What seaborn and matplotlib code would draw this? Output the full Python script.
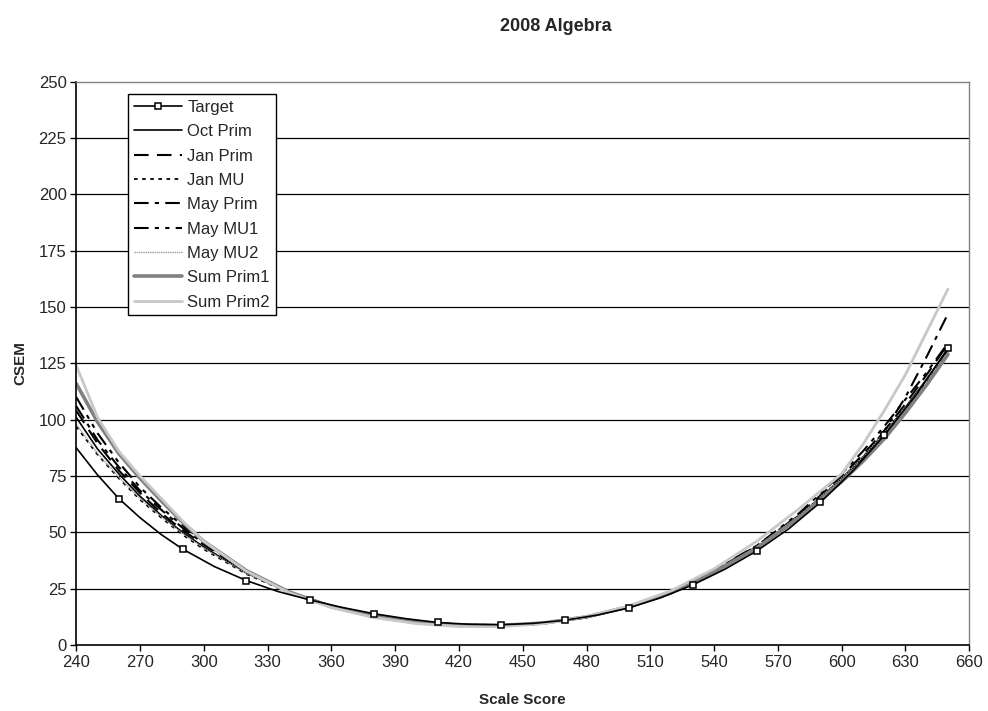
import numpy as np
import pandas as pd
import matplotlib
matplotlib.use("Agg")
import matplotlib.pyplot as plt
from matplotlib.lines import Line2D
import seaborn as sns

# ---------------- data ----------------
# Target curve (smooth line) and the scores carrying square markers
target_x = [240, 250, 260, 270, 280, 290, 305, 320, 335, 350, 365, 380, 395, 410, 425,
            440, 455, 470, 485, 500, 515, 530, 545, 560, 575, 590, 605, 620, 635, 650]
target_y = [87.5, 75.5, 65, 56.5, 49, 42.6, 34.8, 28.6, 23.7, 20, 16.7, 13.9, 11.7, 10, 9.2,
            9, 9.6, 11, 13.3, 16.5, 21, 26.7, 33.6, 41.7, 51.5, 63.3, 77, 93, 111, 131.7]
target_marker_x = [260, 290, 320, 350, 380, 410, 440, 470, 500, 530, 560, 590, 620, 650]

score = [240, 250, 260, 270, 280, 290, 300, 320, 340, 360, 380, 400, 420, 440,
         460, 480, 500, 520, 540, 560, 580, 600, 610, 620, 630, 640, 650]

oct_prim = [101, 87, 76, 66, 57.5, 50, 43.5, 32, 23.5, 17.5, 13.3, 10.6, 9.2, 8.9,
            9.7, 12.2, 16.6, 23, 32, 43, 57, 74, 83.5, 94, 105.5, 118, 131]
jan_prim = [104, 89.5, 77.5, 67.5, 58.5, 51, 44.5, 32.5, 23.5, 17.2, 13, 10.3, 8.9, 8.7,
            9.7, 12.3, 16.8, 23.4, 32.5, 43.6, 57.8, 75, 84.5, 95, 107, 120, 133.5]
jan_mu = [97, 84.5, 74, 64.5, 56.5, 49, 42.5, 31.5, 23.3, 17.4, 13.2, 10.5, 9.1, 8.9,
          9.8, 12.4, 16.8, 23.2, 32.2, 43.2, 57, 73.5, 83, 93.5, 105, 117, 130]
may_prim = [106, 91, 79, 68.5, 60, 52, 45, 32.8, 23.4, 16.8, 12.5, 9.8, 8.5, 8.4,
            9.6, 12.5, 17.2, 24, 33.5, 44, 57.5, 73, 83, 95, 110, 128, 147]
may_mu1 = [110, 94, 81, 70, 61, 53, 46, 33.2, 23.5, 16.7, 12.4, 9.7, 8.4, 8.3,
           9.5, 12.3, 16.9, 23.5, 32.8, 44, 58.5, 76, 86, 97, 109, 121, 134]
may_mu2 = [98, 85, 74.5, 65, 57, 49.5, 43, 31.8, 23.4, 17.3, 13, 10.3, 8.9, 8.7,
           9.7, 12.4, 16.9, 23.4, 32.5, 43.5, 57.5, 74, 83.5, 94, 105.5, 117.5, 130]
sum_prim1 = [116, 99, 85, 74, 64, 54.5, 46, 33, 23.6, 17, 12.8, 10, 8.8, 8.7,
             9.8, 12.5, 17, 23.3, 32.3, 43, 56.5, 72.5, 81.5, 91.5, 103, 115.5, 129]
sum_prim2 = [124, 101, 86, 75, 65, 55, 46, 32.8, 23.3, 16.6, 12.2, 9.5, 8.2, 8.2,
             9.5, 12.6, 17.4, 24.2, 33.8, 46, 60.5, 76, 89, 104, 120, 139, 158]

x_ticks = [240, 270, 300, 330, 360, 390, 420, 450, 480, 510, 540, 570, 600, 630, 660]
y_ticks = [0, 25, 50, 75, 100, 125, 150, 175, 200, 225, 250]

series = [
    ("Oct Prim", oct_prim, dict(color="black", lw=1.2, ls="-")),
    ("Jan Prim", jan_prim, dict(color="black", lw=1.5, ls=(0, (7, 4)))),
    ("Jan MU", jan_mu, dict(color="black", lw=1.3, ls=(0, (2, 2.5)))),
    ("May Prim", may_prim, dict(color="black", lw=1.5, ls=(0, (7, 3, 2, 3)))),
    ("May MU1", may_mu1, dict(color="black", lw=1.5, ls=(0, (7, 3, 2, 3, 2, 3)))),
    ("May MU2", may_mu2, dict(color="#9a9a9a", lw=1.0, ls=(0, (1, 0.6)))),
    ("Sum Prim1", sum_prim1, dict(color="#808080", lw=2.6, ls="-")),
    ("Sum Prim2", sum_prim2, dict(color="#c8c8c8", lw=2.0, ls="-")),
]

# ---------------- plot ----------------
sns.set_theme(style="white")
plt.rcParams["font.family"] = ["Liberation Sans", "DejaVu Sans"]

fig = plt.figure(figsize=(9.88, 7.11), dpi=100)
ax = fig.add_axes([0.0772, 0.0928, 0.9038, 0.7923])

for yt in y_ticks[1:-1]:
    ax.axhline(yt, color="black", lw=0.9, zorder=0)

mark_idx = [i for i, xv in enumerate(target_x) if xv in target_marker_x]
df_t = pd.DataFrame({"x": target_x, "y": target_y})
sns.lineplot(data=df_t, x="x", y="y", ax=ax, color="black", lw=1.2,
             marker="s", markersize=4.6, markerfacecolor="white",
             markeredgecolor="black", markeredgewidth=1.1, markevery=mark_idx,
             label="Target", estimator=None, sort=False, zorder=10)

for name, vals, st in series:
    df = pd.DataFrame({"x": score, "y": vals})
    sns.lineplot(data=df, x="x", y="y", ax=ax, color=st["color"], linewidth=st["lw"],
                 linestyle=st["ls"], label=name, estimator=None, sort=False)

ax.set_xlim(240, 660)
ax.set_ylim(0, 250)
ax.set_xticks(x_ticks)
ax.set_yticks(y_ticks)
ax.tick_params(axis="both", which="both", direction="out", length=4, width=1,
               color="black", labelsize=12, pad=3, bottom=True, left=True)
for s in ["left", "bottom"]:
    ax.spines[s].set_color("black")
    ax.spines[s].set_linewidth(1.2)
for s in ["top", "right"]:
    ax.spines[s].set_color("#808080")
    ax.spines[s].set_linewidth(1.0)

ax.set_xlabel("Scale Score", fontsize=11, fontweight="bold", labelpad=17)
ax.set_ylabel("CSEM", fontsize=11, fontweight="bold", labelpad=8)
fig.text(0.563, 0.963, "2008 Algebra", ha="center", va="center",
         fontsize=13, fontweight="bold")

# legend: target handle shows a single marker in the middle of the line
handles, labels = ax.get_legend_handles_labels()
handles[0] = Line2D([], [], color="black", lw=1.2, marker="s", markersize=4.6,
                    markerfacecolor="white", markeredgecolor="black",
                    markeredgewidth=1.1)
leg = ax.legend(handles, labels, loc="upper left", bbox_to_anchor=(0.058, 0.978),
                fontsize=12, frameon=True, fancybox=False, shadow=False, framealpha=1,
                edgecolor="black", handlelength=2.9, handletextpad=0.3,
                labelspacing=0.56, borderpad=0.35, borderaxespad=0, markerscale=1)
leg.get_frame().set_linewidth(1.0)

fig.savefig("out.png", dpi=100, facecolor="white")
